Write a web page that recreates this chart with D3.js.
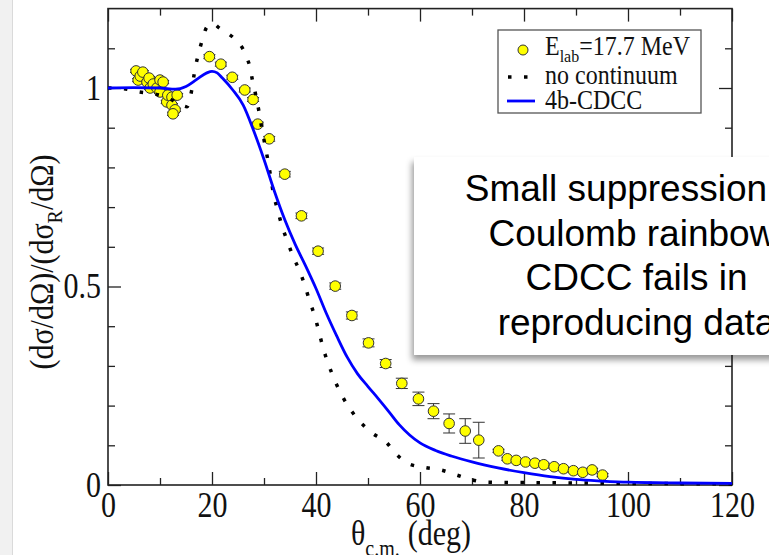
<!doctype html>
<html lang="en">
<head>
    <meta charset="utf-8">
    <title>Coulomb rainbow - 4b-CDCC</title>
    <script src="https://cdnjs.cloudflare.com/ajax/libs/d3/7.8.5/d3.min.js"></script>
    <style>
        body { margin: 0; background: #fff; }
        svg { display: block; }
        .serif { font-family: 'Liberation Serif', 'Times New Roman', serif; fill: #111; }
    </style>
</head>
<body>
<svg id="chart" width="769" height="555"></svg>
<script>
    // experimental points (theta c.m. in deg, ratio to Rutherford, error)
    const expTheta = [5.4, 5.8, 6.2, 6.7, 7.5, 7.9, 8.1, 8.7, 9.4, 10.0, 10.0, 10.6, 11.3, 11.5, 12.3, 12.3, 12.9, 13.3, 12.5,
        19.5, 21.7, 23.9, 26.3, 27.9, 28.8, 31.0, 34.0, 37.2, 40.4, 43.7, 46.9, 50.1, 53.4, 56.5, 59.7, 62.6, 65.6, 68.7, 71.3,
        75.1, 76.8, 78.5, 80.3, 82.1, 83.8, 85.8, 87.6, 89.5, 91.3, 93.1, 95.1];
    const expRatio = [1.043, 1.020, 1.030, 1.040, 1.015, 1.025, 1.000, 1.010, 1.000, 1.020, 0.990, 1.015, 0.965, 0.982, 0.977, 0.957, 0.945, 0.982, 0.935,
        1.079, 1.060, 1.027, 0.995, 0.971, 0.909, 0.872, 0.783, 0.678, 0.589, 0.501, 0.427, 0.358, 0.306, 0.256, 0.217, 0.186, 0.155, 0.136, 0.113,
        0.086, 0.066, 0.062, 0.058, 0.055, 0.051, 0.046, 0.041, 0.036, 0.032, 0.038, 0.025];
    const expErr = [0.004, 0.004, 0.004, 0.004, 0.004, 0.004, 0.004, 0.004, 0.004, 0.004, 0.004, 0.004, 0.004, 0.004, 0.004, 0.004, 0.004, 0.004, 0.004,
        0.005, 0.005, 0.005, 0.005, 0.005, 0.005, 0.006, 0.007, 0.007, 0.008, 0.008, 0.009, 0.010, 0.010, 0.013, 0.017, 0.019, 0.024, 0.031, 0.045,
        0.004, 0.004, 0.004, 0.004, 0.004, 0.004, 0.004, 0.004, 0.004, 0.004, 0.004, 0.004];

    // 4b-CDCC calculation
    const cdccTheta = [0, 5, 10, 13, 15, 17, 19, 20, 21, 22, 24, 26, 28, 30, 32, 34, 36, 38, 40, 42, 44, 46, 48, 50, 52, 54, 56, 58, 60,
        63, 66, 70, 75, 80, 85, 90, 95, 100, 110, 120];
    const cdccRatio = [1.000, 1.001, 1.000, 0.997, 1.004, 1.021, 1.038, 1.042, 1.038, 1.025, 0.995, 0.957, 0.893, 0.820, 0.740, 0.668, 0.606, 0.552, 0.495,
        0.432, 0.375, 0.322, 0.280, 0.248, 0.217, 0.185, 0.152, 0.126, 0.106, 0.087, 0.073, 0.058, 0.043, 0.031, 0.021, 0.014, 0.010, 0.007, 0.005, 0.004];

    // calculation without continuum
    const noContTheta = [0, 3, 6, 9, 12, 14, 15.2, 15.7, 16.1, 16.6, 17.2, 18.0, 19.0, 20.2, 21.5, 23.0, 24.1, 25.0, 26.0, 26.7, 27.2, 27.8,
        28.5, 29.1, 29.6, 30.2, 30.8, 31.3, 31.8, 32.6, 33.4, 34.4, 35.5, 36.8, 37.9, 38.8, 39.8, 40.6, 41.4, 43, 45, 47, 49, 51, 53.5,
        55.4, 57.9, 61.0, 64.0, 67.1, 70.0, 73.1, 80, 90, 100, 120];
    const noContRatio = [1.000, 0.998, 0.990, 0.985, 0.972, 0.958, 0.953, 0.970, 0.995, 1.037, 1.076, 1.115, 1.153, 1.162, 1.150, 1.138, 1.127,
        1.115, 1.097, 1.075, 1.058, 1.018, 0.977, 0.936, 0.896, 0.856, 0.814, 0.775, 0.735, 0.694, 0.655, 0.617, 0.579, 0.540, 0.501, 0.462,
        0.424, 0.384, 0.344, 0.283, 0.225, 0.183, 0.152, 0.129, 0.108, 0.078, 0.053, 0.044, 0.038, 0.025, 0.013, 0.007, 0.006, 0.005, 0.004, 0.003];

    const xMajor = [0, 20, 40, 60, 80, 100, 120];
    const xMinor = [10, 30, 50, 70, 90, 110];
    const yMajor = [0, 0.5, 1];
    const yMajorLabels = ["0", "0.5", "1"];
    const yMinor = [0.1, 0.2, 0.3, 0.4, 0.6, 0.7, 0.8, 0.9, 1.1];

    const legendLabels = ["no continuum", "4b-CDCC"];
    const noteLines = ["Small suppression of", "Coulomb rainbow.", "CDCC fails in", "reproducing data"];

    // the original figure is a bit taller than wide, so the serif text is stretched
    const stretch = 1.17;

    const svg = d3.select("#chart");
    const x = d3.scaleLinear().domain([0, 120]).range([108, 732]);
    const y = d3.scaleLinear().domain([0, 1.2]).range([485, 8.6]);

    svg.append("rect").attr("width", 769).attr("height", 555).attr("fill", "#fff");
    // slide edge on the left
    svg.append("rect").attr("x", 0).attr("y", 0).attr("width", 12).attr("height", 555).attr("fill", "#f1f1f1");
    svg.append("line").attr("x1", 12.5).attr("x2", 12.5).attr("y1", 0).attr("y2", 555).attr("stroke", "#dadada");

    // axes with inward ticks on all four sides
    function styleAxis(g) {
        g.select(".domain").remove();
        g.selectAll(".tick line").attr("stroke", "#222").attr("stroke-width", 1.3);
        g.selectAll("text").attr("class", "serif").attr("font-size", 30).attr("fill", "#111")
            .attr("transform", `scale(1,${stretch})`);
    }
    svg.append("g").attr("transform", "translate(0,485)")
        .call(d3.axisBottom(x).tickValues(xMajor).tickSize(-13).tickPadding(6).tickFormat(d3.format("d")))
        .call(styleAxis);
    svg.append("g").attr("transform", "translate(0,485)")
        .call(d3.axisBottom(x).tickValues(xMinor).tickSize(-7).tickFormat(""))
        .call(styleAxis);
    svg.append("g").attr("transform", "translate(0,8.6)")
        .call(d3.axisTop(x).tickValues(xMajor).tickSize(-13).tickFormat(""))
        .call(styleAxis);
    svg.append("g").attr("transform", "translate(0,8.6)")
        .call(d3.axisTop(x).tickValues(xMinor).tickSize(-7).tickFormat(""))
        .call(styleAxis);
    svg.append("g").attr("transform", "translate(108,0)")
        .call(d3.axisLeft(y).tickValues(yMajor).tickSize(-13).tickPadding(7).tickFormat((d, i) => yMajorLabels[i]))
        .call(styleAxis);
    svg.append("g").attr("transform", "translate(108,0)")
        .call(d3.axisLeft(y).tickValues(yMinor).tickSize(-7).tickFormat(""))
        .call(styleAxis);
    svg.append("g").attr("transform", "translate(732,0)")
        .call(d3.axisRight(y).tickValues(yMajor).tickSize(-13).tickFormat(""))
        .call(styleAxis);
    svg.append("g").attr("transform", "translate(732,0)")
        .call(d3.axisRight(y).tickValues(yMinor).tickSize(-7).tickFormat(""))
        .call(styleAxis);

    svg.append("rect").attr("x", 108).attr("y", 8.6).attr("width", 624).attr("height", 476.4)
        .attr("fill", "none").attr("stroke", "#222").attr("stroke-width", 1.6);

    // error bars and points
    const pts = expTheta.map((t, i) => ({t: t, r: expRatio[i], e: expErr[i]}));
    const eb = svg.append("g").attr("stroke", "#333").attr("stroke-width", 1);
    pts.forEach(p => {
        eb.append("line").attr("x1", x(p.t)).attr("x2", x(p.t)).attr("y1", y(p.r - p.e)).attr("y2", y(p.r + p.e));
        [p.r - p.e, p.r + p.e].forEach(v => {
            eb.append("line").attr("x1", x(p.t) - 6).attr("x2", x(p.t) + 6).attr("y1", y(v)).attr("y2", y(v));
        });
    });
    svg.append("g").selectAll("circle").data(pts).enter().append("circle")
        .attr("cx", d => x(d.t)).attr("cy", d => y(d.r)).attr("r", 5.3)
        .attr("fill", "#ffff00").attr("stroke", "#333").attr("stroke-width", 1);

    const line = d3.line().x(d => x(d[0])).y(d => y(d[1])).curve(d3.curveMonotoneX);
    svg.append("path").datum(noContTheta.map((t, i) => [t, noContRatio[i]]))
        .attr("d", line).attr("fill", "none").attr("stroke", "#000")
        .attr("stroke-width", 3.5).attr("stroke-dasharray", "3.5,12.5");
    svg.append("path").datum(cdccTheta.map((t, i) => [t, cdccRatio[i]]))
        .attr("d", line).attr("fill", "none").attr("stroke", "#0000ff").attr("stroke-width", 2.8);

    // axis titles
    const xt = svg.append("text").attr("class", "serif").attr("font-size", 30)
        .attr("transform", `translate(351,545) scale(1,${stretch})`);
    xt.append("tspan").text("θ");
    xt.append("tspan").attr("dy", 9).attr("font-size", 20).text("c.m.");
    xt.append("tspan").attr("dy", -9).attr("dx", 8).text("(deg)");

    const yt = svg.append("text").attr("class", "serif").attr("font-size", 30)
        .attr("text-anchor", "middle").attr("transform", "translate(53,262) rotate(-90) scale(1,1.1)");
    yt.append("tspan").text("(dσ/dΩ)/(dσ");
    yt.append("tspan").attr("dy", 8).attr("font-size", 20).text("R");
    yt.append("tspan").attr("dy", -8).text("/dΩ)");

    // legend
    const lg = svg.append("g");
    lg.append("rect").attr("x", 498).attr("y", 30).attr("width", 203).attr("height", 83)
        .attr("fill", "#fff").attr("stroke", "#555").attr("stroke-width", 1.3);
    lg.append("circle").attr("cx", 523).attr("cy", 50).attr("r", 5)
        .attr("fill", "#ffff00").attr("stroke", "#333");
    lg.append("line").attr("x1", 508).attr("x2", 531).attr("y1", 77).attr("y2", 77)
        .attr("stroke", "#000").attr("stroke-width", 3.5).attr("stroke-dasharray", "3.5,12.5");
    lg.append("line").attr("x1", 507).attr("x2", 535).attr("y1", 101).attr("y2", 101)
        .attr("stroke", "#0000ff").attr("stroke-width", 2.8);
    const l1 = lg.append("text").attr("class", "serif").attr("font-size", 24)
        .attr("transform", "translate(545,55) scale(1,1.1)");
    l1.append("tspan").text("E");
    l1.append("tspan").attr("dy", 6).attr("font-size", 16).text("lab");
    l1.append("tspan").attr("dy", -6).text("=17.7 MeV");
    lg.selectAll("text.lab").data(legendLabels).enter().append("text")
        .attr("class", "serif lab").attr("font-size", 24)
        .attr("transform", (d, i) => `translate(545,${84 + i * 25}) scale(1,1.1)`)
        .text(d => d);

    // annotation box
    const defs = svg.append("defs");
    const f = defs.append("filter").attr("id", "shadow").attr("x", "-10%").attr("y", "-10%")
        .attr("width", "130%").attr("height", "130%");
    f.append("feDropShadow").attr("dx", -2).attr("dy", 5).attr("stdDeviation", 3)
        .attr("flood-color", "#000").attr("flood-opacity", 0.4);
    svg.append("rect").attr("x", 414).attr("y", 157).attr("width", 380).attr("height", 198)
        .attr("fill", "#fff").attr("filter", "url(#shadow)");
    svg.append("g").selectAll("text").data(noteLines).enter().append("text")
        .attr("x", 636.5).attr("y", (d, i) => 200.7 + i * 44.8)
        .attr("text-anchor", "middle").attr("font-family", "'Liberation Sans', Arial, sans-serif")
        .attr("font-size", 37).attr("fill", "#000").text(d => d);
</script>
</body>
</html>
